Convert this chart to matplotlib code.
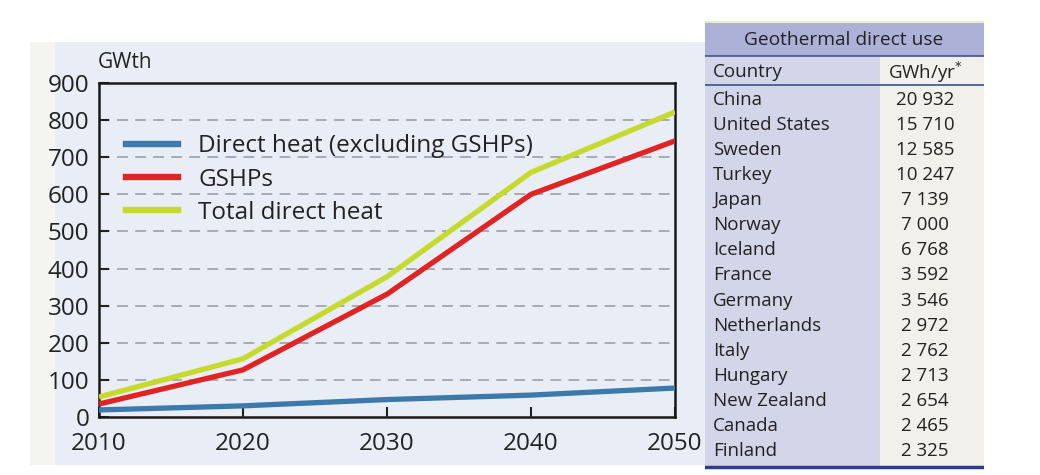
import matplotlib
matplotlib.use("Agg")
import matplotlib.pyplot as plt
from matplotlib.patches import Rectangle
from matplotlib.lines import Line2D

plt.rcParams["font.family"] = ["Open Sans", "DejaVu Sans"]

# -----------------------------------------------------------------------------
# Data
# -----------------------------------------------------------------------------
years = [2010, 2020, 2030, 2040, 2050]
direct_heat = [19, 30, 47, 59, 78]
gshps = [35, 127, 331, 600, 744]
total_heat = [54, 157, 378, 659, 822]

series_labels = ["Direct heat (excluding GSHPs)", "GSHPs", "Total direct heat"]
series_colors = ["#3b7aab", "#e02424", "#c5da2c"]

table_title = "Geothermal direct use"
countries = ["China", "United States", "Sweden", "Turkey", "Japan", "Norway",
             "Iceland", "France", "Germany", "Netherlands", "Italy", "Hungary",
             "New Zealand", "Canada", "Finland"]
gwh_per_year = [20932, 15710, 12585, 10247, 7139, 7000, 6768, 3592, 3546,
                2972, 2762, 2713, 2654, 2465, 2325]

W, H = 1040, 475
TEXT = "#222222"

fig = plt.figure(figsize=(W / 100, H / 100), dpi=100)
fig.patch.set_facecolor("white")


def px_rect(x0, y0, x1, y1, **kw):
    """Rectangle in figure pixel coords (y from top)."""
    return Rectangle((x0 / W, 1 - y1 / H), (x1 - x0) / W, (y1 - y0) / H,
                     transform=fig.transFigure, **kw)


# background panel behind the chart
fig.patches.append(px_rect(30, 42, 706, 465, facecolor="#e9edf5", edgecolor="none", zorder=-2))
fig.patches.append(px_rect(30, 42, 55, 465, facecolor="#f4f4f0", edgecolor="none", zorder=-1))

# -----------------------------------------------------------------------------
# Line chart
# -----------------------------------------------------------------------------
ax = fig.add_axes([99 / W, 1 - 417 / H, (675 - 99) / W, (417 - 83) / H])
ax.set_facecolor("none")
for vals, col in zip([direct_heat, gshps, total_heat], series_colors):
    ax.plot(years, vals, color=col, lw=3.8, solid_capstyle="butt", zorder=3)

ax.set_xlim(2010, 2050)
ax.set_ylim(0, 900)
ax.set_xticks(years)
ax.set_yticks(range(0, 901, 100))
ax.tick_params(axis="both", colors=TEXT, direction="in", width=1.5, length=7)
ax.tick_params(axis="y", labelsize=17.5, pad=7)
ax.tick_params(axis="x", labelsize=17.5, pad=11)
for yv in range(100, 900, 100):
    ax.axhline(yv, color="#a3a5ad", lw=1.3, ls=(0, (6, 4)), zorder=1)
for s in ax.spines.values():
    s.set_linewidth(1.8)
    s.set_color("#1a1a1a")

ax.text(-0.002, 1.03, "GWth", transform=ax.transAxes, fontsize=15,
        color=TEXT, ha="left", va="bottom")

handles = [Line2D([], [], color=c, lw=4.6) for c in series_colors]
ax.legend(handles, series_labels, loc="upper left", bbox_to_anchor=(0.03, 0.875),
          frameon=False, fontsize=17.5, handlelength=2.15, handletextpad=0.82,
          labelspacing=0.38, labelcolor=TEXT, borderaxespad=0)

# -----------------------------------------------------------------------------
# Table (axes in pixel coordinates)
# -----------------------------------------------------------------------------
tx0, tx1, ty0, ty1 = 705, 984, 20, 470
tab = fig.add_axes([tx0 / W, 1 - ty1 / H, (tx1 - tx0) / W, (ty1 - ty0) / H])
tab.set_xlim(tx0, tx1)
tab.set_ylim(ty1, ty0)
tab.axis("off")

tab.add_patch(Rectangle((705, 57), 175, 410, facecolor="#d3d5e9", edgecolor="none"))
tab.add_patch(Rectangle((880, 57), 104, 410, facecolor="#f1f0ea", edgecolor="none"))
tab.add_patch(Rectangle((705, 22), 279, 34, facecolor="#adb1d8", edgecolor="none"))
tab.plot([705, 984], [22, 22], color="#e8ecc8", lw=1.5)
tab.plot([705, 984], [56, 56], color="#4a5aa0", lw=1.3)
tab.plot([705, 984], [85, 85], color="#4a5aa0", lw=1.3)
tab.plot([705, 984], [467, 467], color="#2d3f86", lw=2.5)

tab.text(844, 40, table_title, ha="center", va="center", fontsize=13.8, color=TEXT)
tab.text(713, 72, "Country", ha="left", va="center", fontsize=13.5, color=TEXT)
tab.text(925, 72, r"GWh/yr$^{*}$", ha="center", va="center", fontsize=13.5, color=TEXT)

row_top, row_step = 100, 25.07
for i, (c, v) in enumerate(zip(countries, gwh_per_year)):
    y = row_top + i * row_step
    tab.text(713, y, c, ha="left", va="center", fontsize=13.5, color=TEXT)
    tab.text(925, y, f"{v:,}".replace(",", " "), ha="center", va="center",
             fontsize=13.5, color=TEXT)

fig.savefig("out.png", dpi=100)
